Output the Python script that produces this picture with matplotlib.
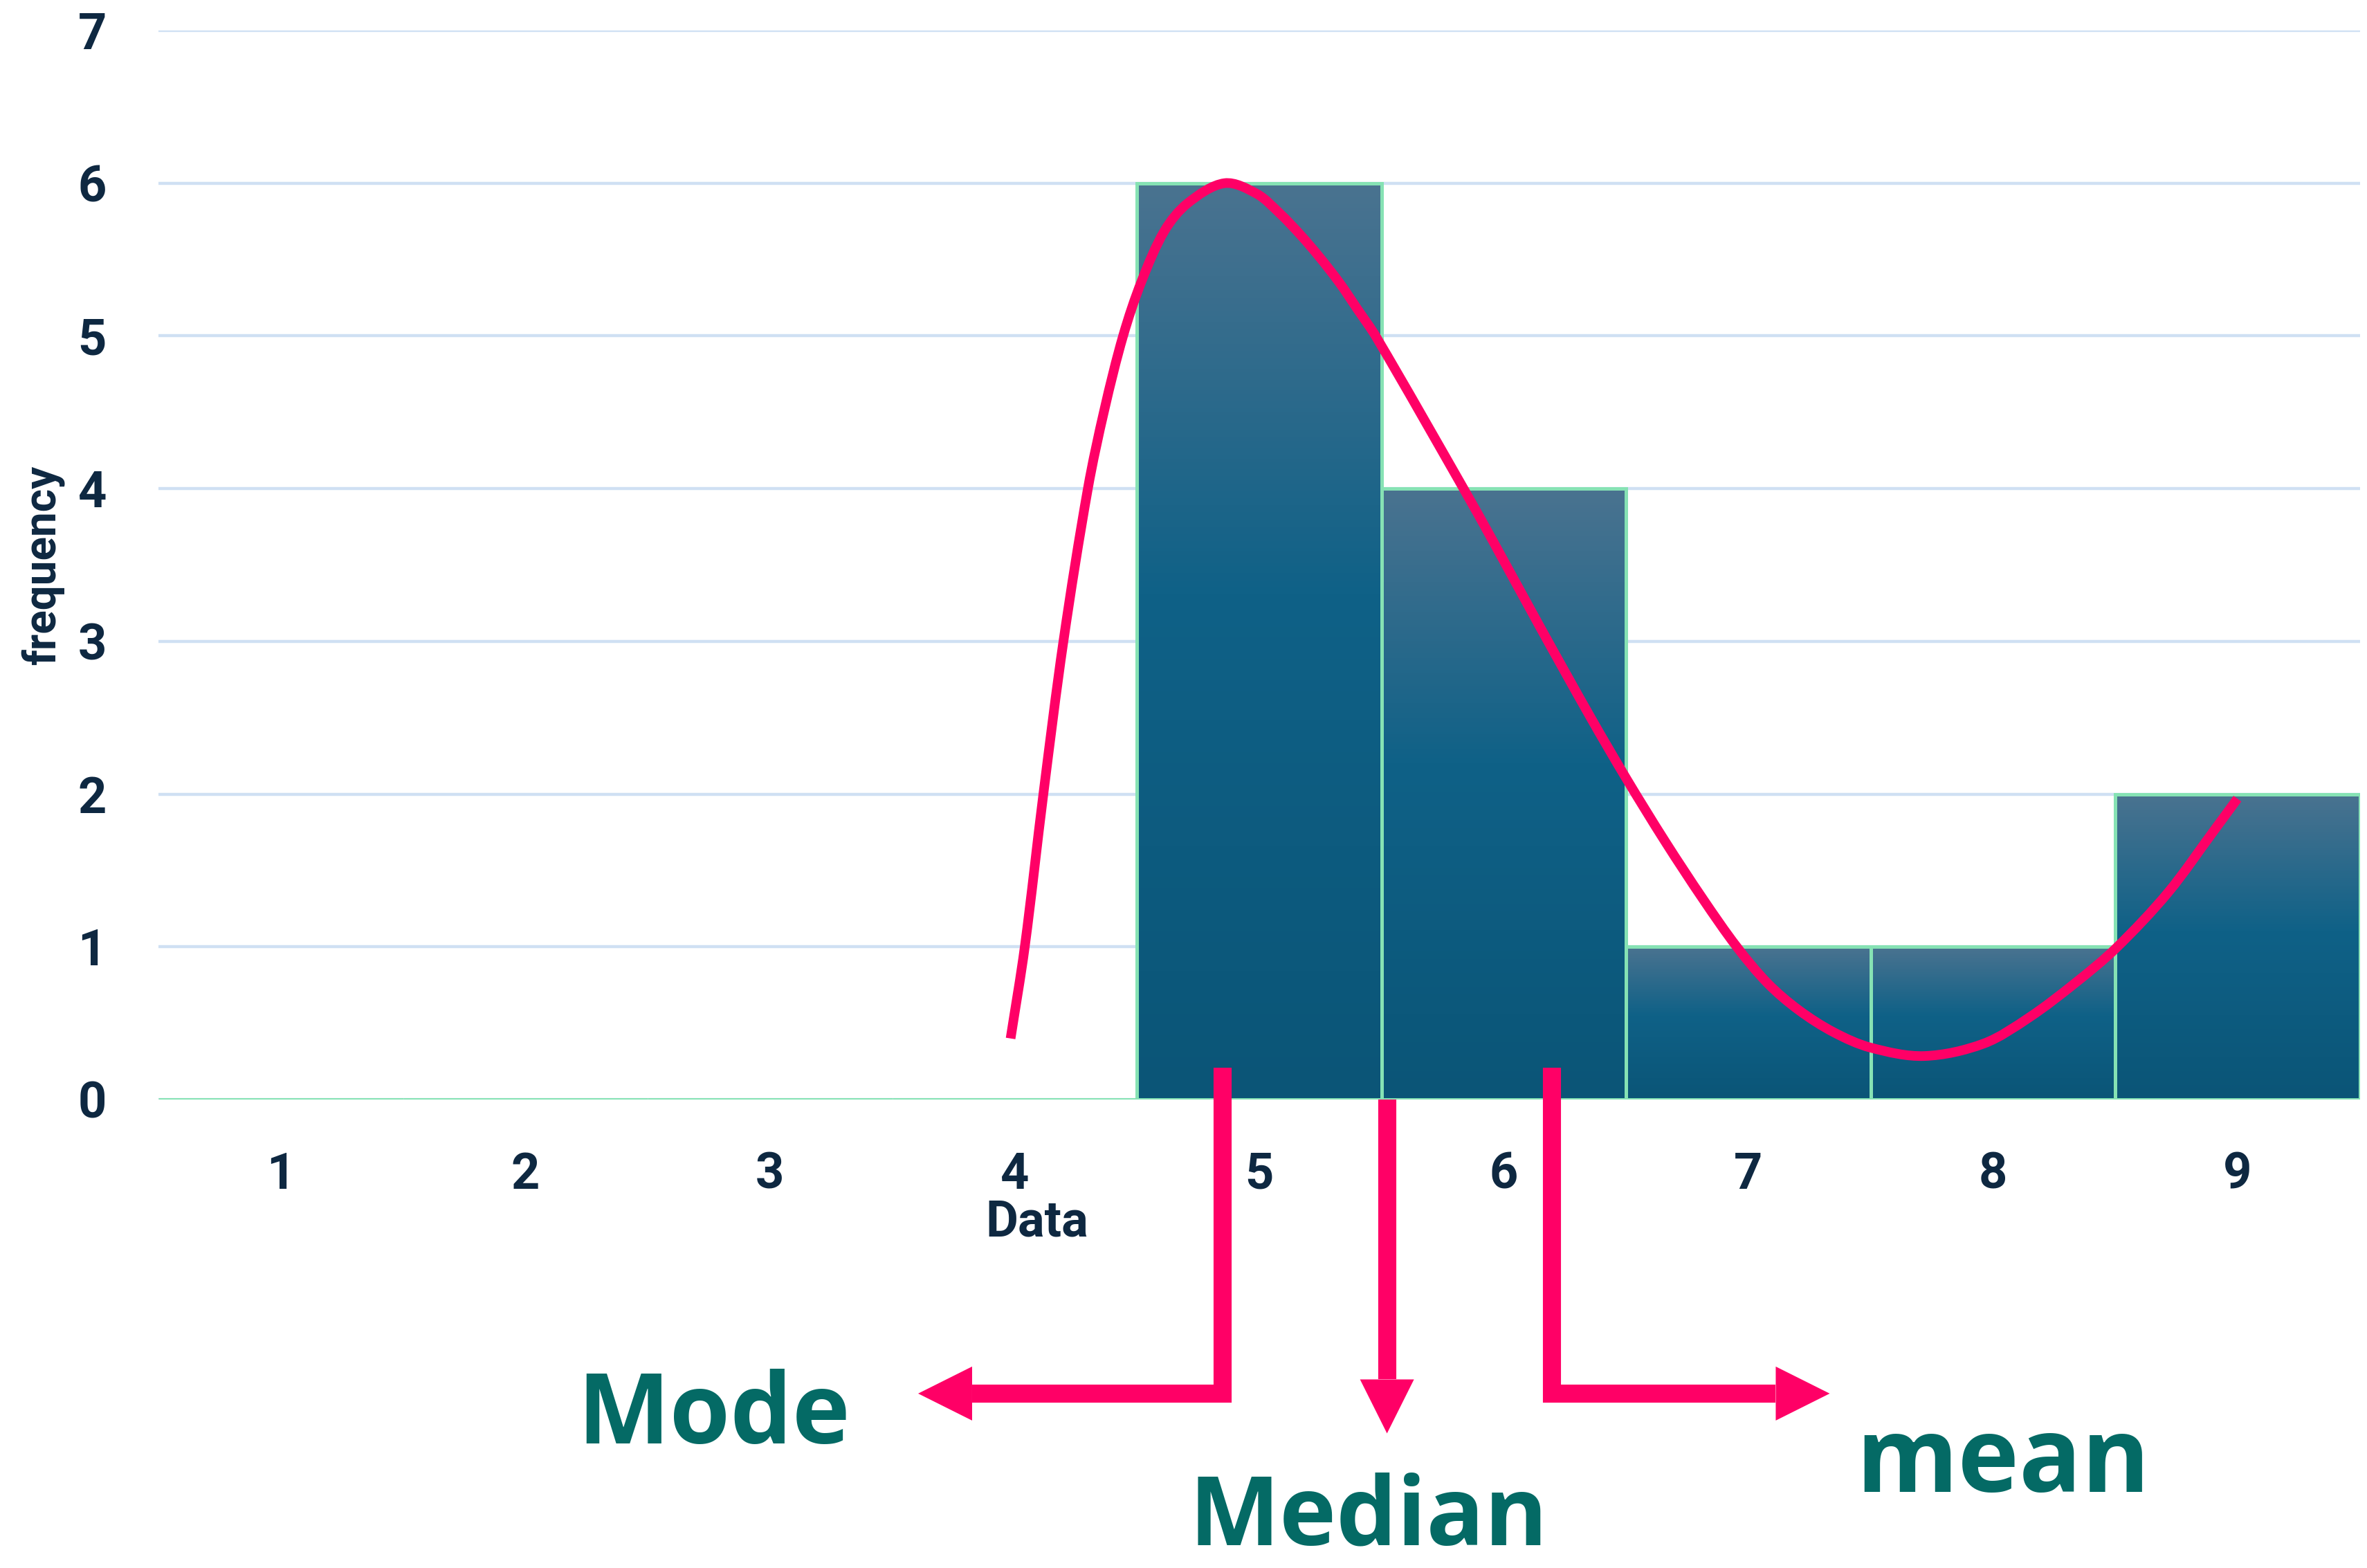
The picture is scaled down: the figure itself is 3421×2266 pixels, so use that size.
"""
Histogram with a fitted curve and mode / median / mean arrows
"""
import matplotlib.pyplot as plt
import numpy as np
from matplotlib.colors import LinearSegmentedColormap
from matplotlib.patches import Polygon, PathPatch
from matplotlib.path import Path

plt.rcParams['font.family'] = ['Roboto', 'DejaVu Sans']

# -- Data --------------------------------------------
categories = [1, 2, 3, 4, 5, 6, 7, 8, 9]
frequency  = [0, 0, 0, 0, 6, 4, 1, 1, 2]

# pink curve
curve_x = [3.984, 4.042, 4.118, 4.200, 4.300, 4.368, 4.444, 4.52, 4.614,
           4.709, 4.859, 4.991, 5.086, 5.17, 5.25, 5.33, 5.40, 5.48,
           5.836, 5.955, 6.15, 6.356, 6.502, 6.66, 6.816, 6.953, 7.08,
           7.207, 7.35, 7.50, 7.72, 7.962, 8.15, 8.339, 8.504, 8.716,
           8.905, 9.0]
curve_y = [0.40, 1.00, 2.00, 3.00, 4.00, 4.52, 5.00, 5.36, 5.69,
           5.87, 6.00, 5.93, 5.80, 5.66, 5.51, 5.345, 5.18, 4.99,
           4.00, 3.66, 3.09, 2.50, 2.10, 1.69, 1.31, 1.00, 0.76,
           0.585, 0.44, 0.34, 0.285, 0.366, 0.539, 0.766, 0.992, 1.355,
           1.763, 1.97]

# -- Annotation positions (data units) -----------------
mode_x, median_x, mean_x = 4.85, 5.523, 6.196
arrow_top  = 0.21
arrow_turn = -1.925
mode_tip   = 3.606
median_tip = -2.186
mean_tip   = 7.333

pink = '#ff0066'
teal = '#046a65'
navy = '#0e2841'

# -- Plotting ---------------------------------------
fig = plt.figure(figsize=(3421 / 200, 2266 / 200), dpi=200)
ax = fig.add_axes([229 / 3421, 1 - 1589 / 2266, 3181.5 / 3421, 1545 / 2266])

cmap = LinearSegmentedColormap.from_list(
    'bar', [(0, '#0b5577'), (0.55, '#0f6187'), (1, '#4a7390')])
grad = np.linspace(0, 1, 256).reshape(-1, 1)
for cat, freq in zip(categories, frequency):
    if freq == 0:
        continue
    ax.imshow(grad, cmap=cmap, origin='lower', aspect='auto',
              extent=(cat - 0.5, cat + 0.5, 0, freq), zorder=2)
ax.bar(categories, frequency, width=1.0, facecolor='none',
       edgecolor='#86e2b4', linewidth=1.8, zorder=3)
ax.set_xlim(0.5, 9.5)
ax.set_ylim(0, 7)

# pixel -> data scale
px_x = (ax.transData.transform((1, 0))[0] - ax.transData.transform((0, 0))[0])
px_y = (ax.transData.transform((0, 1))[1] - ax.transData.transform((0, 0))[1])

# smooth curve through the read points (chord-length cubic Hermite as Bezier)
pts = np.column_stack([curve_x, curve_y])
scr = pts * [px_x, px_y]
seg = np.hypot(*np.diff(scr, axis=0).T)
t = np.concatenate([[0], np.cumsum(seg)])
n = len(pts)
tang = np.zeros_like(pts)
for i in range(n):
    a, b = max(i - 1, 0), min(i + 1, n - 1)
    tang[i] = (pts[b] - pts[a]) / (t[b] - t[a])
verts = [pts[0]]
codes = [Path.MOVETO]
for i in range(n - 1):
    h = t[i + 1] - t[i]
    verts += [pts[i] + tang[i] * h / 3, pts[i + 1] - tang[i + 1] * h / 3, pts[i + 1]]
    codes += [Path.CURVE4] * 3
ax.add_patch(PathPatch(Path(verts, codes), facecolor='none', edgecolor=pink,
                       linewidth=5.0, capstyle='butt', joinstyle='round',
                       zorder=4))

# axes styling
for s in ax.spines.values():
    s.set_visible(False)
ax.set_yticks(range(0, 8))
ax.set_xticks(categories)
ax.tick_params(length=0, labelsize=26, labelcolor=navy, pad=27)
for lbl in ax.get_xticklabels() + ax.get_yticklabels():
    lbl.set_fontweight('bold')
ax.yaxis.grid(True, color='#cfe0f3', linewidth=1.6, zorder=0)
ax.set_axisbelow(True)

ax.set_ylabel('frequency', fontsize=23, fontweight='bold', color=navy, va='center')
ax.yaxis.set_label_coords(-0.0525, 0.5)
ax.set_xlabel('Data', fontsize=26, fontweight='bold', color=navy, va='center')
ax.xaxis.set_label_coords(0.399, -0.115)

# -- Arrows -----------------------------------------
head_len, head_half = 78, 39
lw = 9.4

def arrow_line(xs, ys):
    ax.plot(xs, ys, color=pink, linewidth=lw, solid_capstyle='butt',
            solid_joinstyle='miter', clip_on=False, zorder=5)

def head(tip, direction):
    x, y = tip
    if direction == 'left':
        tri = [(x, y), (x + head_len / px_x, y + head_half / px_y),
               (x + head_len / px_x, y - head_half / px_y)]
    elif direction == 'right':
        tri = [(x, y), (x - head_len / px_x, y + head_half / px_y),
               (x - head_len / px_x, y - head_half / px_y)]
    else:
        tri = [(x, y), (x - head_half / px_x, y + head_len / px_y),
               (x + head_half / px_x, y + head_len / px_y)]
    ax.add_patch(Polygon(tri, closed=True, color=pink, clip_on=False,
                         zorder=5, linewidth=0))

arrow_line([mode_x, mode_x, mode_tip + head_len / px_x],
           [arrow_top, arrow_turn, arrow_turn])
head((mode_tip, arrow_turn), 'left')

arrow_line([median_x, median_x], [0, median_tip + head_len / px_y])
head((median_x, median_tip), 'down')

arrow_line([mean_x, mean_x, mean_tip - head_len / px_x],
           [arrow_top, arrow_turn, arrow_turn])
head((mean_tip, arrow_turn), 'right')

# -- Labels -----------------------------------------
label_font = ['Open Sans', 'DejaVu Sans']
fig.text(1032 / 3421, 1 - 2086 / 2266, 'Mode', fontsize=51, fontweight='bold',
         color=teal, family=label_font, ha='center', va='baseline')
fig.text(1978 / 3421, 1 - 2232 / 2266, 'Median', fontsize=50, fontweight='bold',
         color=teal, family=label_font, ha='center', va='baseline')
fig.text(2895 / 3421, 1 - 2156 / 2266, 'mean', fontsize=54, fontweight='bold',
         color=teal, family=label_font, ha='center', va='baseline')

fig.savefig('out.png', dpi=200, facecolor='white')
